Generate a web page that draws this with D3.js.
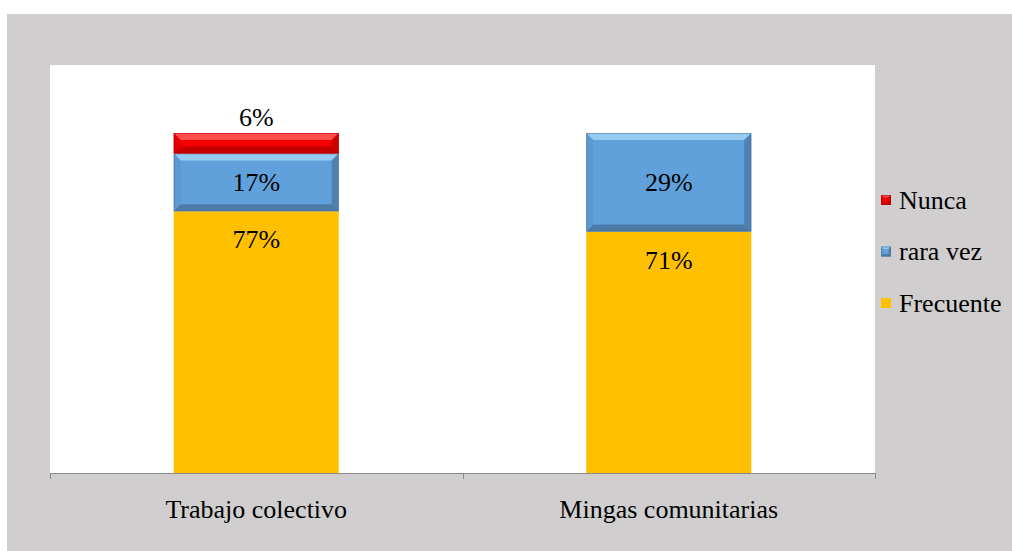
<!DOCTYPE html>
<html><head><meta charset="utf-8">
<script src="https://cdn.jsdelivr.net/npm/d3@7"></script>
<style>html,body{margin:0;padding:0;background:#fff}svg{display:block}
svg text{font-family:"Liberation Serif","Times New Roman","DejaVu Serif",serif;}</style>
</head><body>
<script>
const categories = ["Trabajo colectivo", "Mingas comunitarias"];
const frecuente = [0.77, 0.71];
const raraVez = [0.17, 0.29];
const nunca = [0.06, 0.00];
const seriesNames = ["Frecuente", "rara vez", "Nunca"];
const legendOrder = ["Nunca", "rara vez", "Frecuente"];

const W = 1012, H = 551;
const svg = d3.select("body").append("svg").attr("width", W).attr("height", H);
svg.append("rect").attr("x", 7).attr("y", 14).attr("width", W - 7).attr("height", H - 14).attr("fill", "#d0cece");

const plot = {l: 50, r: 875, t: 65, b: 473};
svg.append("rect").attr("x", plot.l).attr("y", plot.t).attr("width", plot.r - plot.l).attr("height", plot.b - plot.t).attr("fill", "#fff");

const x = d3.scaleBand().domain(categories).range([plot.l, plot.r]).paddingInner(0.6).paddingOuter(0.3);
const y = d3.scaleLinear().domain([0, 1.2]).range([plot.b, plot.t]);

const styles = {
  "Frecuente": {fill: "#ffc000", bevel: false},
  "rara vez": {fill: "#60a1dc", light: "#9fd2f4", dark: "#466f96", side: "#5a95cc", bevel: true},
  "Nunca": {fill: "#f50000", light: "#ff5a5a", dark: "#b40000", side: "#d80000", bevel: true}
};

const rows = categories.map((c, i) => ({cat: c, "Frecuente": frecuente[i], "rara vez": raraVez[i], "Nunca": nunca[i]}));
const stacked = d3.stack().keys(seriesNames)(rows);

function drawBlock(g, x0, y0, w, h, st, b) {
  g.append("rect").attr("x", x0).attr("y", y0).attr("width", w).attr("height", h).attr("fill", st.fill);
  if (!st.bevel) return;
  b = Math.min(b, h / 2, w / 2);
  const x1 = x0 + w, y1 = y0 + h;
  g.append("polygon").attr("points", [[x0,y0],[x1,y0],[x1-b,y0+b],[x0+b,y0+b]].join(" ")).attr("fill", st.light).attr("opacity", 0.85);
  g.append("polygon").attr("points", [[x0,y1],[x1,y1],[x1-b,y1-b],[x0+b,y1-b]].join(" ")).attr("fill", st.dark).attr("opacity", 0.75);
  g.append("polygon").attr("points", [[x0,y0],[x0+b,y0+b],[x0+b,y1-b],[x0,y1]].join(" ")).attr("fill", st.side).attr("opacity", 0.6);
  g.append("polygon").attr("points", [[x1,y0],[x1-b,y0+b],[x1-b,y1-b],[x1,y1]].join(" ")).attr("fill", st.dark).attr("opacity", 0.65);
  g.append("rect").attr("x", x0 + 0.5).attr("y", y0 + 0.5).attr("width", w - 1).attr("height", h - 1).attr("fill", "none").attr("stroke", st.dark).attr("stroke-width", 1).attr("opacity", 0.5);
}

const barsG = svg.append("g");
stacked.forEach(layer => {
  const st = styles[layer.key];
  layer.forEach((d, i) => {
    const v = d[1] - d[0];
    if (v <= 0) return;
    const x0 = x(rows[i].cat), w = x.bandwidth();
    const yTop = y(d[1]), h = y(d[0]) - y(d[1]);
    drawBlock(barsG, x0, yTop, w, h, st, 7);
  });
});

// axis
const axisG = svg.append("g").attr("transform", `translate(0,${plot.b})`);
axisG.append("line").attr("x1", plot.l).attr("x2", plot.r).attr("y1", 0.5).attr("y2", 0.5).attr("stroke", "#898989").attr("stroke-width", 1);
const tickXs = [plot.l, ...categories.slice(1).map(c => x(c) - x.step() * x.paddingInner() / 2), plot.r];
tickXs.forEach(tx => axisG.append("line").attr("x1", Math.round(tx) + 0.5).attr("x2", Math.round(tx) + 0.5).attr("y1", 0).attr("y2", 6).attr("stroke", "#898989"));

svg.append("g").selectAll("text").data(categories).join("text")
  .attr("x", d => x(d) + x.bandwidth() / 2).attr("y", 518)
  .attr("text-anchor", "middle").attr("font-size", 26).attr("fill", "#000")
  .text(d => d);

// data labels
const labG = svg.append("g").attr("font-size", 26).attr("fill", "#000").attr("text-anchor", "middle");
stacked.forEach(layer => {
  layer.forEach((d, i) => {
    const v = d[1] - d[0];
    if (v <= 0) return;
    const cx = x(rows[i].cat) + x.bandwidth() / 2;
    let ly;
    if (layer.key === "Frecuente") ly = y(d[1]) + 37;
    else if (layer.key === "Nunca") ly = y(d[1]) - 7;
    else ly = (y(d[0]) + y(d[1])) / 2 + 9;
    labG.append("text").attr("x", cx).attr("y", ly).text(Math.round(v * 100) + "%");
  });
});

// legend
const legG = svg.append("g");
legendOrder.forEach((name, i) => {
  const cy = 200 + i * 51.5;
  drawBlock(legG, 881, cy - 5, 10, 10, styles[name], 2.5);
  legG.append("text").attr("x", 899).attr("y", cy + 8.5).attr("font-size", 26).attr("fill", "#000").text(name);
});
</script>
</body></html>
